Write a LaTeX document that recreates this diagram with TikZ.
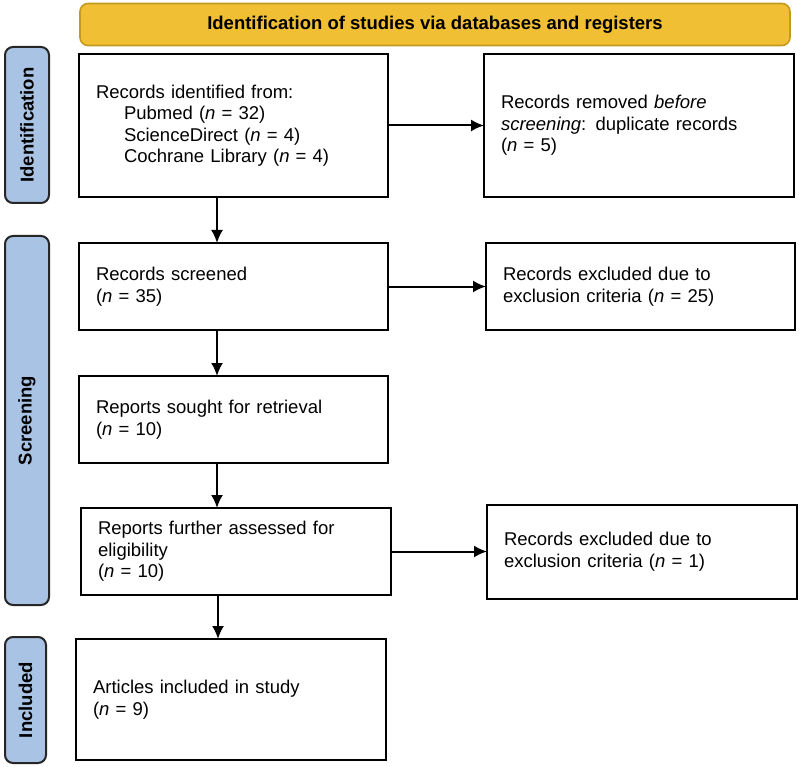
\documentclass[tikz,border=0pt]{standalone}
\usepackage{fontspec}
\setmainfont{Liberation Sans}
\usetikzlibrary{positioning}
\usetikzlibrary{arrows.meta}
\definecolor{bannergold}{HTML}{F0BF33}
\definecolor{bannerrim}{HTML}{C49A1E}
\definecolor{phaseblue}{HTML}{A9C3E4}

\begin{document}
\begin{tikzpicture}[x=1pt, y=-1pt,
				every node/.style={font=\fontsize{18.5}{21.5}\selectfont},
				record/.style={draw, rectangle, line width=2pt, outer sep=0pt, inner xsep=17pt, inner ysep=0pt, align=left},
				phase/.style={draw=black!85, fill=phaseblue, line width=2pt, rounded corners=8pt, rotate=90, minimum height=44pt, font=\fontsize{18.5}{21.5}\selectfont\bfseries},
				flow/.style={-{Latex[length=13pt,width=12pt]}, line width=2pt}]
				\useasboundingbox (0,0) rectangle (800,767);
				
				\node[draw=bannerrim, fill=bannergold, line width=1.6pt, rounded corners=8pt, minimum width=710pt, minimum height=42pt, font=\fontsize{18.5}{21.5}\selectfont\bfseries](banner) at (435,24.5) {Identification of studies via databases and registers};
				
				\node[phase, minimum width=156pt](phase1) at (27,125) {Identification};
				\node[phase, minimum width=369pt](phase2) at (27,420.5) {Screening};
				\node[phase, minimum width=126pt, minimum height=41pt](phase3) at (25.5,700) {Included};
				
				\node[record, text width=275pt, minimum height=143pt](node1) at (233.5,125.5) {Records identified from:\\\hspace*{28pt}Pubmed (\textit{n} = 32)\\\hspace*{28pt}ScienceDirect (\textit{n} = 4)\\\hspace*{28pt}Cochrane Library (\textit{n} = 4)};
				\node[record, text width=276pt, minimum height=143pt, right=96pt of node1](node11) {Records removed \textit{before}\\\textit{screening}: duplicate records\\(\textit{n} = 5)};
				
				\node[record, text width=275pt, minimum height=87pt, below=46pt of node1](node2) {Records screened\\(\textit{n} = 35)};
				\node[record, text width=275pt, minimum height=87pt, right=98pt of node2](node21) {Records excluded due to\\exclusion criteria (\textit{n} = 25)};
				
				\node[record, text width=275pt, minimum height=87pt, below=46pt of node2](node3) {Reports sought for retrieval\\(\textit{n} = 10)};
				
				\node[record, text width=276pt, minimum height=87pt, below=45pt of node3, xshift=2.5pt](node4) {Reports further assessed for\\eligibility\\(\textit{n} = 10)};
				\node[record, text width=276pt, minimum height=94pt, right=96pt of node4](node41) {Records excluded due to\\exclusion criteria (\textit{n} = 1)};
				
				\node[record, text width=276pt, minimum height=121pt, below=44pt of node4, xshift=-5pt](node5) {Articles included in study\\(\textit{n} = 9)};
				
				\draw [flow] (node1) -- (node11);
				\draw [flow] (node2) -- (node21);
				\draw [flow] (node4.east) -- (node4.east -| node41.west);
				\draw [flow] ([xshift=-16.5pt]node1.south) -- ([xshift=-16.5pt]node1.south |- node2.north);
				\draw [flow] ([xshift=-16.5pt]node2.south) -- ([xshift=-16.5pt]node2.south |- node3.north);
				\draw [flow] ([xshift=-16.5pt]node3.south) -- ([xshift=-16.5pt]node3.south |- node4.north);
				\draw [flow] ([xshift=-18pt]node4.south) -- ([xshift=-18pt]node4.south |- node5.north);
				
			\end{tikzpicture}
\end{document}
